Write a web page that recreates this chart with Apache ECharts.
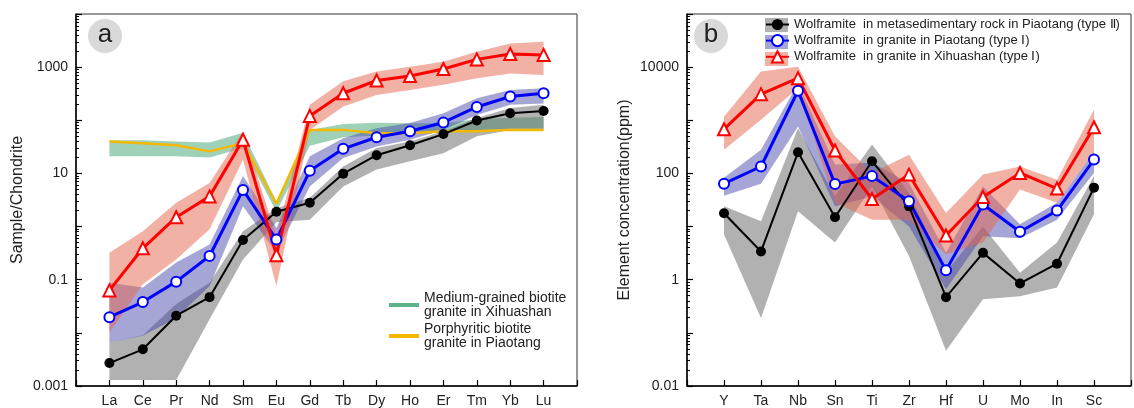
<!DOCTYPE html>
<html>
<head>
<meta charset="utf-8">
<script src="https://cdn.jsdelivr.net/npm/echarts@6/dist/echarts.min.js"></script>
<style>
  html, body { margin: 0; padding: 0; background: #fff; }
  #chart { width: 1134px; height: 408px; }
</style>
</head>
<body>
<div id="chart"></div>
<script>
// ---- panel a: chondrite-normalised REE ----
const reeElements = ['La', 'Ce', 'Pr', 'Nd', 'Sm', 'Eu', 'Gd', 'Tb', 'Dy', 'Ho', 'Er', 'Tm', 'Yb', 'Lu'];
const reeTypeII = [0.0027, 0.0049, 0.021, 0.047, 0.56, 1.9, 2.8, 9.9, 22, 34, 55, 99, 136, 150];
const reeTypeIILow = [0.0013, 0.0013, 0.0013, 0.018, 0.24, 1.2, 1.35, 5.7, 11.8, 17, 24, 50, 66, 66];
const reeTypeIIHigh = [0.0066, 0.009, 0.035, 0.088, 0.82, 2.2, 3.5, 13.5, 30, 40, 62, 110, 170, 195];
const reePiaotang = [0.0197, 0.038, 0.092, 0.28, 4.9, 0.57, 11.2, 29, 48, 62, 91, 178, 280, 323];
const reePiaotangLow = [0.0066, 0.0088, 0.019, 0.076, 2.4, 0.32, 5.7, 19.5, 32, 43, 66, 126, 195, 208];
const reePiaotangHigh = [0.088, 0.071, 0.21, 0.46, 8.9, 0.95, 21, 46, 71, 89, 136, 260, 373, 400];
const reeXihuashan = [0.063, 0.39, 1.5, 3.7, 43, 0.29, 121, 323, 560, 680, 925, 1400, 1770, 1700];
const reeXihuashanLow = [0.01, 0.082, 0.24, 0.89, 18, 0.076, 66, 182, 300, 373, 465, 615, 760, 710];
const reeXihuashanHigh = [0.32, 0.82, 2.8, 6.6, 62, 0.66, 195, 540, 830, 1020, 1260, 1950, 2800, 3000];
const reePorphyritic = [40, 37, 34, 26, 37, 2.7, 66, 66, 57, 57, 62, 62, 66, 66];
const reeMediumLow = [21, 21, 21, 20, 30, 1.9, 33, 48, 52, 55, 58, 65, 70, 70];
const reeMediumHigh = [42, 42, 40, 38, 58, 3.0, 66, 85, 90, 88, 88, 105, 112, 115];

// ---- panel b: trace elements (ppm) ----
const traceElements = ['Y', 'Ta', 'Nb', 'Sn', 'Ti', 'Zr', 'Hf', 'U', 'Mo', 'In', 'Sc'];
const traceTypeII = [17.8, 3.4, 250, 15, 170, 24, 0.47, 3.2, 0.85, 2.0, 54];
const traceTypeIILow = [7.1, 0.19, 19.5, 5, 57, 2.8, 0.046, 0.43, 0.49, 0.71, 17];
const traceTypeIIHigh = [24, 12.6, 710, 37, 350, 43, 1.4, 10, 1.35, 5, 89];
const tracePiaotang = [64, 135, 3600, 63, 89, 30, 1.5, 26, 8, 20, 182];
const tracePiaotangLow = [38, 64, 760, 24, 37, 10, 0.66, 6.6, 6, 13.5, 102];
const tracePiaotangHigh = [83, 280, 5000, 147, 158, 66, 3.2, 57, 11, 28, 260];
const traceXihuashan = [680, 3100, 6200, 270, 33, 95, 6.8, 36, 102, 52, 740];
const traceXihuashanLow = [280, 1020, 4000, 28, 13.5, 13.5, 3.0, 5, 50, 28, 260];
const traceXihuashanHigh = [1170, 8300, 10200, 500, 102, 224, 18, 95, 135, 76, 1580];

const nameTypeII = 'Wolframite  in metasedimentary rock in Piaotang (type Ⅱ)';
const namePiaotang = 'Wolframite  in granite in Piaotang (type Ⅰ)';
const nameXihuashan = 'Wolframite  in granite in Xihuashan (type Ⅰ)';
const nameMedium = 'Medium-grained biotite\ngranite in Xihuashan';
const namePorphyritic = 'Porphyritic biotite\ngranite in Piaotang';

const FONT = '"Liberation Sans", Arial, sans-serif';
const GRAY_BAND = 'rgba(100,100,100,0.5)';
const BLUE_BAND = 'rgba(70,70,170,0.48)';
const RED_BAND = 'rgba(230,100,75,0.5)';

const chart = echarts.init(document.getElementById('chart'));

// 用多边形画出上下限范围带
const band = (name, idx, low, high, fill, opacity) => ({
  name: name,
  type: 'custom',
  xAxisIndex: idx,
  yAxisIndex: idx,
  color: fill,
  silent: true,
  clip: true,
  data: low.map((v, i) => [i, v, high[i]]),
  encode: {x: 0, y: [1, 2]},
  renderItem: (params, api) => {
    if (params.dataIndex !== 0) return;
    const top = high.map((v, i) => api.coord([i, v]));
    const bottom = low.map((v, i) => api.coord([i, v])).reverse();
    return {
      type: 'polygon',
      shape: {points: top.concat(bottom)},
      style: {fill: fill, opacity: opacity}
    };
  }
});

const line = (name, idx, values, color, width, symbol, size, fill) => ({
  name: name,
  type: 'line',
  xAxisIndex: idx,
  yAxisIndex: idx,
  data: values.map((v, i) => [i, v]),
  symbol: symbol,
  symbolSize: size,
  showSymbol: symbol !== 'none',
  color: color,
  lineStyle: {color: color, width: width},
  itemStyle: {color: fill || color, borderColor: color, borderWidth: fill ? 2 : 0},
  z: 3
});

const xAxis = (idx, names, count) => ({
  type: 'value',
  gridIndex: idx,
  min: -1,
  max: count,
  interval: 1,
  axisLine: {onZero: false, lineStyle: {color: '#000', width: 1.5}},
  axisTick: {inside: true, length: 6, lineStyle: {color: '#000', width: 1.2}},
  splitLine: {show: false},
  axisLabel: {
    margin: 8,
    fontFamily: FONT,
    fontSize: 14,
    color: '#222',
    formatter: v => names[v] || ''
  }
});

const yAxis = (idx, min, max, name, showExp, gap) => ({
  type: 'log',
  logBase: 10,
  gridIndex: idx,
  min: min,
  max: max,
  name: name,
  nameLocation: 'middle',
  nameGap: gap,
  nameTextStyle: {fontFamily: FONT, fontSize: 16, color: '#222'},
  axisLine: {show: true, onZero: false, lineStyle: {color: '#000', width: 1.5}},
  axisTick: {inside: true, length: 6, lineStyle: {color: '#000', width: 1.2}},
  minorTick: {show: true, splitNumber: 9, length: 3, lineStyle: {color: '#000', width: 1}},
  splitLine: {show: false},
  minorSplitLine: {show: false},
  axisLabel: {
    margin: 8,
    fontFamily: FONT,
    fontSize: 14,
    color: '#222',
    formatter: v => {
      const e = Math.round(Math.log10(v));
      if (!showExp(e)) return '';
      return e < 0 ? Math.pow(10, e).toFixed(-e) : String(Math.pow(10, e));
    }
  }
});

const option = {
  animation: false,
  backgroundColor: '#fff',
  grid: [
    {left: 76, top: 14, width: 501, height: 373, show: true, borderColor: '#333', borderWidth: 1},
    {left: 687, top: 14, width: 468, height: 373, show: true, borderColor: '#333', borderWidth: 1}
  ],
  xAxis: [xAxis(0, reeElements, reeElements.length), xAxis(1, traceElements, traceElements.length)],
  yAxis: [
    yAxis(0, 0.001, 10000, 'Sample/Chondrite', e => e % 2 !== 0, 50),
    yAxis(1, 0.01, 100000, 'Element concentration(ppm)', e => e % 2 === 0, 54)
  ],
  legend: [
    {
      data: [nameMedium, namePorphyritic],
      orient: 'vertical',
      left: 384,
      top: 286,
      icon: 'rect',
      itemWidth: 30,
      itemHeight: 4,
      itemGap: 3,
      selectedMode: false,
      textStyle: {fontFamily: FONT, fontSize: 14, color: '#222', lineHeight: 14}
    },
    {
      data: [nameTypeII, namePiaotang, nameXihuashan],
      orient: 'vertical',
      left: 760,
      top: 13,
      itemWidth: 23,
      itemHeight: 14,
      itemGap: 3,
      selectedMode: false,
      textStyle: {fontFamily: FONT, fontSize: 13, color: '#222'}
    }
  ],
  graphic: [
    {type: 'circle', shape: {cx: 105, cy: 36, r: 17}, style: {fill: '#d9d9d9'}},
    {type: 'text', x: 105, y: 35, style: {text: 'a', font: '26px ' + FONT, fill: '#222', align: 'center', verticalAlign: 'middle'}},
    {type: 'circle', shape: {cx: 711, cy: 36, r: 17}, style: {fill: '#d9d9d9'}},
    {type: 'text', x: 711, y: 35, style: {text: 'b', font: '26px ' + FONT, fill: '#222', align: 'center', verticalAlign: 'middle'}},
    {type: 'rect', shape: {x: 765, y: 18, width: 23, height: 14}, style: {fill: GRAY_BAND}},
    {type: 'rect', shape: {x: 765, y: 35, width: 23, height: 14}, style: {fill: BLUE_BAND}},
    {type: 'rect', shape: {x: 765, y: 52, width: 23, height: 14}, style: {fill: RED_BAND}}
  ],
  series: [
    // panel a
    band(nameMedium, 0, reeMediumLow, reeMediumHigh, '#5fb38a', 0.6),
    band('a-typeII-range', 0, reeTypeIILow, reeTypeIIHigh, GRAY_BAND, 1),
    band('a-piaotang-range', 0, reePiaotangLow, reePiaotangHigh, BLUE_BAND, 1),
    band('a-xihuashan-range', 0, reeXihuashanLow, reeXihuashanHigh, RED_BAND, 1),
    line(namePorphyritic, 0, reePorphyritic, '#f5b800', 2.5, 'none', 0),
    line(nameTypeII, 0, reeTypeII, '#000', 2, 'circle', 10),
    line(namePiaotang, 0, reePiaotang, '#0000ff', 3, 'circle', 10, '#fff'),
    line(nameXihuashan, 0, reeXihuashan, '#ff0000', 3, 'triangle', 12, '#fff'),
    // panel b
    band('b-typeII-range', 1, traceTypeIILow, traceTypeIIHigh, GRAY_BAND, 1),
    band('b-piaotang-range', 1, tracePiaotangLow, tracePiaotangHigh, BLUE_BAND, 1),
    band('b-xihuashan-range', 1, traceXihuashanLow, traceXihuashanHigh, RED_BAND, 1),
    line(nameTypeII, 1, traceTypeII, '#000', 2, 'circle', 10),
    line(namePiaotang, 1, tracePiaotang, '#0000ff', 3, 'circle', 10, '#fff'),
    line(nameXihuashan, 1, traceXihuashan, '#ff0000', 3, 'triangle', 12, '#fff')
  ]
};

chart.setOption(option);
window.addEventListener('resize', () => chart.resize());
</script>
</body>
</html>
